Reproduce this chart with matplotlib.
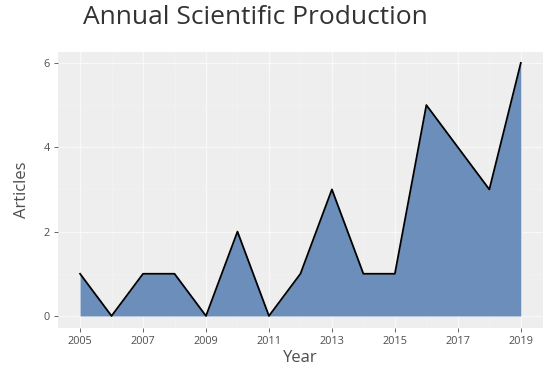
import matplotlib.pyplot as plt

plt.rcParams['font.family'] = ['Open Sans', 'DejaVu Sans']

years = [2005, 2006, 2007, 2008, 2009, 2010, 2011, 2012, 2013, 2014, 2015, 2016, 2017, 2018, 2019]
articles = [1, 0, 1, 1, 0, 2, 0, 1, 3, 1, 1, 5, 4, 3, 6]
xticks = [2005, 2007, 2009, 2011, 2013, 2015, 2017, 2019]
yticks = [0, 2, 4, 6]

fig = plt.figure(figsize=(5.5, 3.71), dpi=100)
ax = fig.add_axes([0.1055, 0.116, 0.8815, 0.744])
ax.set_facecolor('#eeeeee')

ax.fill_between(years, articles, 0, color='#6b8ebb', linewidth=0, zorder=2)
ax.plot(years, articles, color='black', linewidth=1.3, zorder=3)

ax.set_xlim(2004.3, 2019.7)
ax.set_ylim(-0.285, 6.26)
ax.set_xticks(xticks)
ax.set_yticks(yticks)
ax.set_xticks(range(2006, 2020, 2), minor=True)
ax.set_yticks([1, 3, 5], minor=True)
ax.grid(True, which='major', color='#f8f8f8', linewidth=0.9, zorder=0)
ax.grid(True, which='minor', color='#f3f3f3', linewidth=0.5, zorder=0)
ax.set_axisbelow(True)
for s in ax.spines.values():
    s.set_visible(False)
ax.tick_params(which='major', colors='#4d4d4d', labelsize=7.8, length=3, width=0.6, pad=3)
ax.tick_params(which='minor', length=0)

ax.set_xlabel('Year', fontsize=12, color='#4d4d4d', labelpad=2)
ax.set_ylabel('Articles', fontsize=12, color='#4d4d4d', labelpad=10)
fig.text(83 / 550, 1 - 18 / 371, 'Annual Scientific Production', fontsize=19,
         color='#333333', ha='left', va='center')

fig.savefig('out.png', dpi=100)
